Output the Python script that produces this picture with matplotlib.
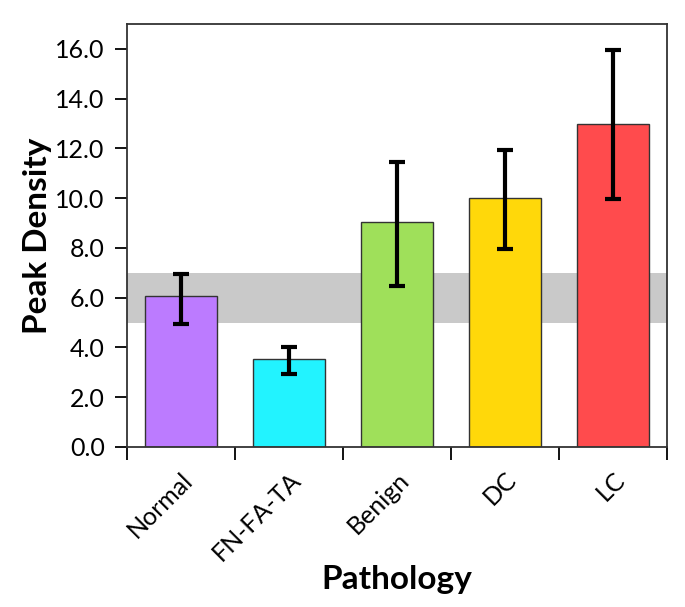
import numpy as np
import matplotlib.pyplot as plt

# data
categories = ["Normal", "FN-FA-TA", "Benign", "DC", "LC"]
means = [6.05, 3.55, 9.05, 10.0, 13.0]
err_low = [1.1, 0.6, 2.6, 2.05, 3.05]
err_high = [0.9, 0.45, 2.4, 1.95, 2.95]
bar_colors = ["#BC7BFF", "#22F3FF", "#9FE05A", "#FFD80A", "#FF4B4D"]
normal_band = (5.0, 7.0)
yticks = [0, 2, 4, 6, 8, 10, 12, 14, 16]

plt.rcParams['font.family'] = ['Lato', 'DejaVu Sans']

fig = plt.figure(figsize=(6.85, 6.07), dpi=100)
ax = fig.add_axes([0.1854, 0.2636, 0.7883, 0.6969])

x = np.arange(len(categories))

# gray normal range
ax.axhspan(normal_band[0], normal_band[1], color="#c9c9c9", lw=0, zorder=0)

ax.bar(x, means, width=0.67, color=bar_colors, edgecolor="#333333",
       linewidth=1.0, zorder=2)
ax.errorbar(x, means, yerr=[err_low, err_high], fmt="none", ecolor="black",
            elinewidth=3, capsize=5.5, capthick=3, zorder=3)

ax.set_xlim(-0.5, len(categories) - 0.5)
ax.set_ylim(0, 17)
ax.set_yticks(yticks)
ax.set_yticklabels([f"{v:.1f}" for v in yticks], fontsize=18)

# ticks between categories on x
ax.set_xticks(np.arange(-0.5, len(categories), 1.0))
ax.set_xticklabels([])
ax.set_xticks(x, minor=True)
ax.set_xticklabels(categories, minor=True, rotation=45, ha="right",
                   rotation_mode="anchor", fontsize=18)
ax.tick_params(axis="x", which="major", direction="out", length=9, width=1.3)
ax.tick_params(axis="x", which="minor", length=0, pad=15)
ax.tick_params(axis="y", direction="out", length=9, width=1.3, pad=7)

for s in ax.spines.values():
    s.set_linewidth(1.3)
    s.set_color("#333333")

ax.set_xlabel("Pathology", fontsize=24, fontweight="bold", labelpad=0)
ax.set_ylabel("Peak Density", fontsize=24, fontweight="bold", labelpad=2)

fig.savefig("out.png", dpi=100)
